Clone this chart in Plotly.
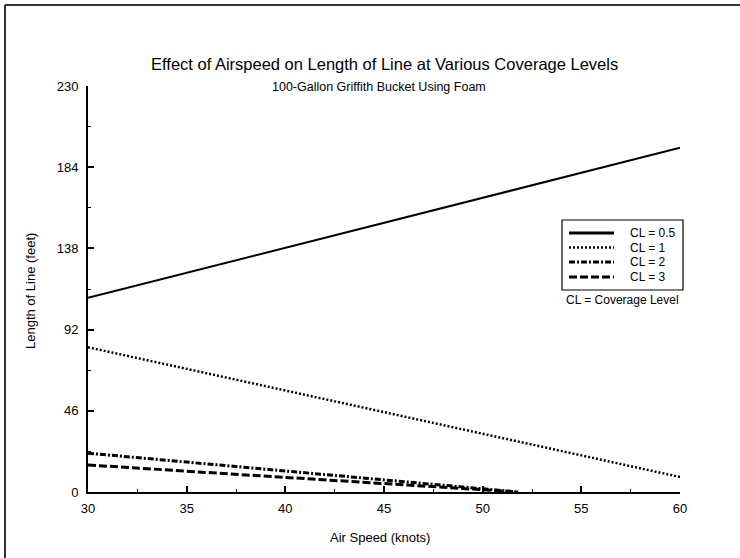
import plotly.graph_objects as go

# Data
series_names = ["CL = 0.5", "CL = 1", "CL = 2", "CL = 3"]
x_cl05 = [30, 60]
y_cl05 = [110, 195]
x_cl1 = [30, 60]
y_cl1 = [82, 8.5]
x_cl2 = [30, 51.8]
y_cl2 = [22, 0]
x_cl3 = [30, 51.8]
y_cl3 = [15.3, 0]

y_ticks = [0, 46, 92, 138, 184, 230]
x_ticks = [30, 35, 40, 45, 50, 55, 60]

FONT = "Liberation Sans, Arial, sans-serif"

W, H = 740, 558
ML, MR, MT, MB = 88, 60, 86, 66
PW = W - ML - MR
PH = H - MT - MB


def px_x(p):
    return (p - ML) / PW


def px_y(p):
    return (H - MB - p) / PH


styles = [
    dict(color="black", width=2),
    dict(color="black", width=2.5, dash="2px,2px"),
    dict(color="black", width=3, dash="6px,2px,2px,2px"),
    dict(color="black", width=3, dash="8px,3px"),
]
legend_widths = [3, 2.5, 3, 3]

fig = go.Figure()
for name, xs, ys, st in zip(series_names, [x_cl05, x_cl1, x_cl2, x_cl3],
                            [y_cl05, y_cl1, y_cl2, y_cl3], styles):
    fig.add_trace(go.Scatter(x=xs, y=ys, mode="lines", name=name, line=st,
                             showlegend=False))

fig.update_layout(
    width=W, height=H,
    margin=dict(l=ML, r=MR, t=MT, b=MB, autoexpand=False),
    paper_bgcolor="white", plot_bgcolor="white",
    font=dict(family=FONT, size=13, color="black"),
    showlegend=False,
)

fig.update_xaxes(
    range=[30, 60], tickvals=x_ticks, ticks="inside", ticklen=6, tickwidth=1.5,
    tickcolor="black", showline=True, linecolor="black", linewidth=2,
    showgrid=False, zeroline=False, tickfont=dict(size=13), ticklabelstandoff=3,
    minor=dict(dtick=2.5, ticks="inside", ticklen=3, tickwidth=1, tickcolor="black", showgrid=False),
)
fig.update_yaxes(
    range=[0, 230], tickvals=y_ticks, ticks="inside", ticklen=6, tickwidth=1.5,
    tickcolor="black", showline=True, linecolor="black", linewidth=2,
    showgrid=False, zeroline=False, tickfont=dict(size=13), ticklabelstandoff=5,
    minor=dict(dtick=23, ticks="inside", ticklen=3, tickwidth=1, tickcolor="black", showgrid=False),
)

annotations = [
    dict(text="Effect of Airspeed on Length of Line at Various Coverage Levels",
         x=px_x(384), y=px_y(64), font=dict(size=16.5)),
    dict(text="100-Gallon Griffith Bucket Using Foam",
         x=px_x(379), y=px_y(87), font=dict(size=12.5)),
    dict(text="Air Speed (knots)", x=px_x(380), y=px_y(537), font=dict(size=13)),
    dict(text="Length of Line (feet)", x=px_x(30), y=px_y(291), textangle=-90,
         font=dict(size=13)),
    dict(text="CL = Coverage Level", x=px_x(564), y=px_y(300), xanchor="left",
         font=dict(size=12)),
]
# legend labels
legend_rows = [233, 247.5, 262, 277]
for name, yr in zip(series_names, legend_rows):
    annotations.append(dict(text=name, x=px_x(628), y=px_y(yr), xanchor="left",
                            font=dict(size=12)))
for a in annotations:
    a.setdefault("xanchor", "center")
    fig.add_annotation(xref="paper", yref="paper", showarrow=False, yanchor="middle", **a)

# legend box and samples
fig.add_shape(type="rect", xref="paper", yref="paper",
              x0=px_x(562), x1=px_x(683), y0=px_y(220), y1=px_y(290),
              line=dict(color="black", width=1.2), fillcolor="white", layer="above")
for st, lw, yr in zip(styles, legend_widths, legend_rows):
    ls = dict(st)
    ls["width"] = lw
    fig.add_shape(type="line", xref="paper", yref="paper",
                  x0=px_x(569), x1=px_x(614), y0=px_y(yr), y1=px_y(yr),
                  line=ls, layer="above")

# outer frame (top and left edges)
fig.add_shape(type="line", xref="paper", yref="paper",
              x0=px_x(5), x1=px_x(745), y0=px_y(5), y1=px_y(5),
              line=dict(color="#333333", width=2))
fig.add_shape(type="line", xref="paper", yref="paper",
              x0=px_x(5), x1=px_x(5), y0=px_y(5), y1=px_y(565),
              line=dict(color="#333333", width=2))

fig.write_html("out.html")
